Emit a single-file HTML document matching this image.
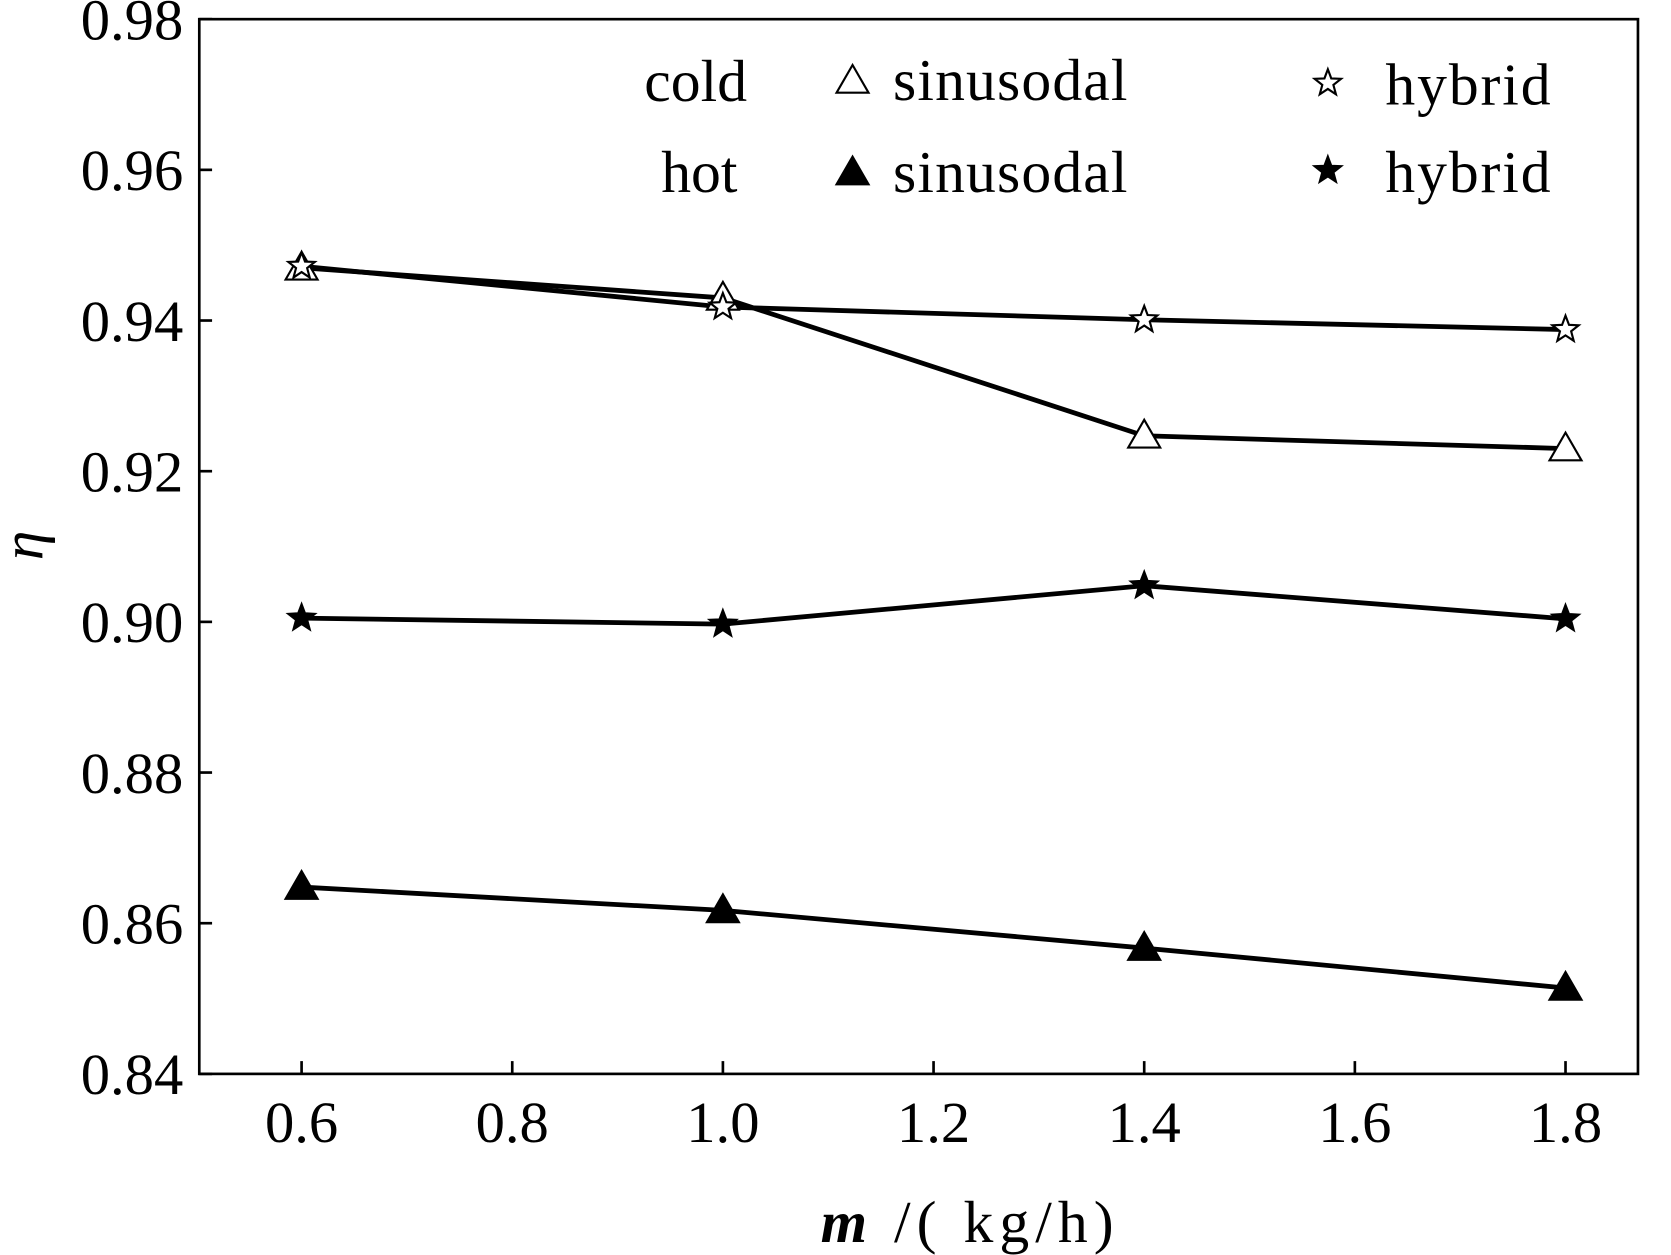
<!DOCTYPE html>
<html><head><meta charset="utf-8"><style>
html,body{margin:0;padding:0;background:#fff;}
svg{display:block;}
text{font-family:"Liberation Serif",serif;fill:#000;}
</style></head><body>
<svg id="chart" width="1671" height="1255" viewBox="0 0 1568 1178" preserveAspectRatio="none" xmlns="http://www.w3.org/2000/svg">
<rect x="187" y="18" width="1350" height="990" fill="none" stroke="#000" stroke-width="2.5"/>
<g id="axes"></g>
<g id="series"></g>
<g id="legend">
 <text x="701" y="95" font-size="56" text-anchor="end">cold</text>
 <text x="838" y="94" font-size="56" textLength="220">sinusodal</text>
 <text x="1300" y="98" font-size="56" textLength="155">hybrid</text>
 <text x="692" y="180" font-size="56" text-anchor="end">hot</text>
 <text x="838" y="180" font-size="56" textLength="220">sinusodal</text>
 <text x="1300" y="180" font-size="56" textLength="155">hybrid</text>
</g>
<text x="770" y="1166" font-size="56" textLength="275"><tspan font-style="italic" font-weight="bold">m</tspan> /( kg/h)</text>
<text x="0" y="0" font-size="56" font-style="italic" text-anchor="middle" transform="translate(40,512) rotate(-90)">η</text>
</svg>
<script>
const xCats=[0.6,1.0,1.4,1.8];
const xTicks=[0.6,0.8,1.0,1.2,1.4,1.6,1.8];
const xTickLabels=["0.6","0.8","1.0","1.2","1.4","1.6","1.8"];
const yTicks=[0.84,0.86,0.88,0.90,0.92,0.94,0.96,0.98];
const yTickLabels=["0.84","0.86","0.88","0.90","0.92","0.94","0.96","0.98"];
const coldSinusoidal=[0.9470,0.9430,0.9247,0.9230];
const coldHybrid=[0.9472,0.9418,0.9401,0.9388];
const hotHybrid=[0.9005,0.8997,0.9048,0.9004];
const hotSinusoidal=[0.8648,0.8617,0.8567,0.8514];

const NS="http://www.w3.org/2000/svg";
function xs(v){return 283+(v-0.6)/0.2*197.67;}
function ys(v){return 1008-(v-0.84)/0.14*990;}
function mk(tag,attrs,parent){const e=document.createElementNS(NS,tag);for(const k in attrs)e.setAttribute(k,attrs[k]);parent.appendChild(e);return e;}
const axes=document.getElementById('axes');
xTicks.forEach((t,i)=>{
  const l=mk('line',{x1:xs(t),x2:xs(t),y1:1008,y2:996,stroke:'#000','stroke-width':2.5},axes);
  
  
  const tx=mk('text',{x:xs(t),y:1072,'font-size':55,'text-anchor':'middle'},axes);
  tx.textContent=xTickLabels[i];
  
  
});
yTicks.forEach((t,i)=>{
  const l=mk('line',{x1:187,x2:199,y1:ys(t),y2:ys(t),stroke:'#000','stroke-width':2.5},axes);
  
  
  const tx=mk('text',{x:172,y:ys(t)+19,'font-size':55,'text-anchor':'end'},axes);
  tx.textContent=yTickLabels[i];
  
  
});
function tri(x,y,fill,p){return mk('polygon',{points:`${x},${y-15} ${x-15},${y+11} ${x+15},${y+11}`,fill:fill,stroke:'#000','stroke-width':2},p);}
function star(x,y,fill,p){let pts=[];for(let k=0;k<10;k++){const r=k%2?5.5:13;const a=-Math.PI/2+k*Math.PI/5;pts.push((x+r*Math.cos(a)).toFixed(1)+','+(y+r*Math.sin(a)).toFixed(1));}return mk('polygon',{points:pts.join(' '),fill:fill,stroke:'#000','stroke-width':2},p);}
const sg=document.getElementById('series');
const series=[
 {name:'cold-sinusoidal',vals:coldSinusoidal,m:tri,fill:'#fff'},
 {name:'cold-hybrid',vals:coldHybrid,m:star,fill:'#fff'},
 {name:'hot-hybrid',vals:hotHybrid,m:star,fill:'#000'},
 {name:'hot-sinusoidal',vals:hotSinusoidal,m:tri,fill:'#000'}
];
series.forEach(s=>{
  const pl=mk('polyline',{points:s.vals.map((v,i)=>xs(xCats[i])+','+ys(v)).join(' '),fill:'none',stroke:'#000','stroke-width':4.5},sg);
  
  
});
series.forEach(s=>{
  s.vals.forEach((v,i)=>{
    const p=s.m(xs(xCats[i]),ys(v),s.fill,sg);
    
    
  });
});
const lg=document.getElementById('legend');
const m1=tri(800,76,'#fff',lg);
const m2=star(1246,78,'#fff',lg);
const m3=tri(800,162,'#000',lg);
const m4=star(1246,160,'#000',lg);
</script>
</body></html>
